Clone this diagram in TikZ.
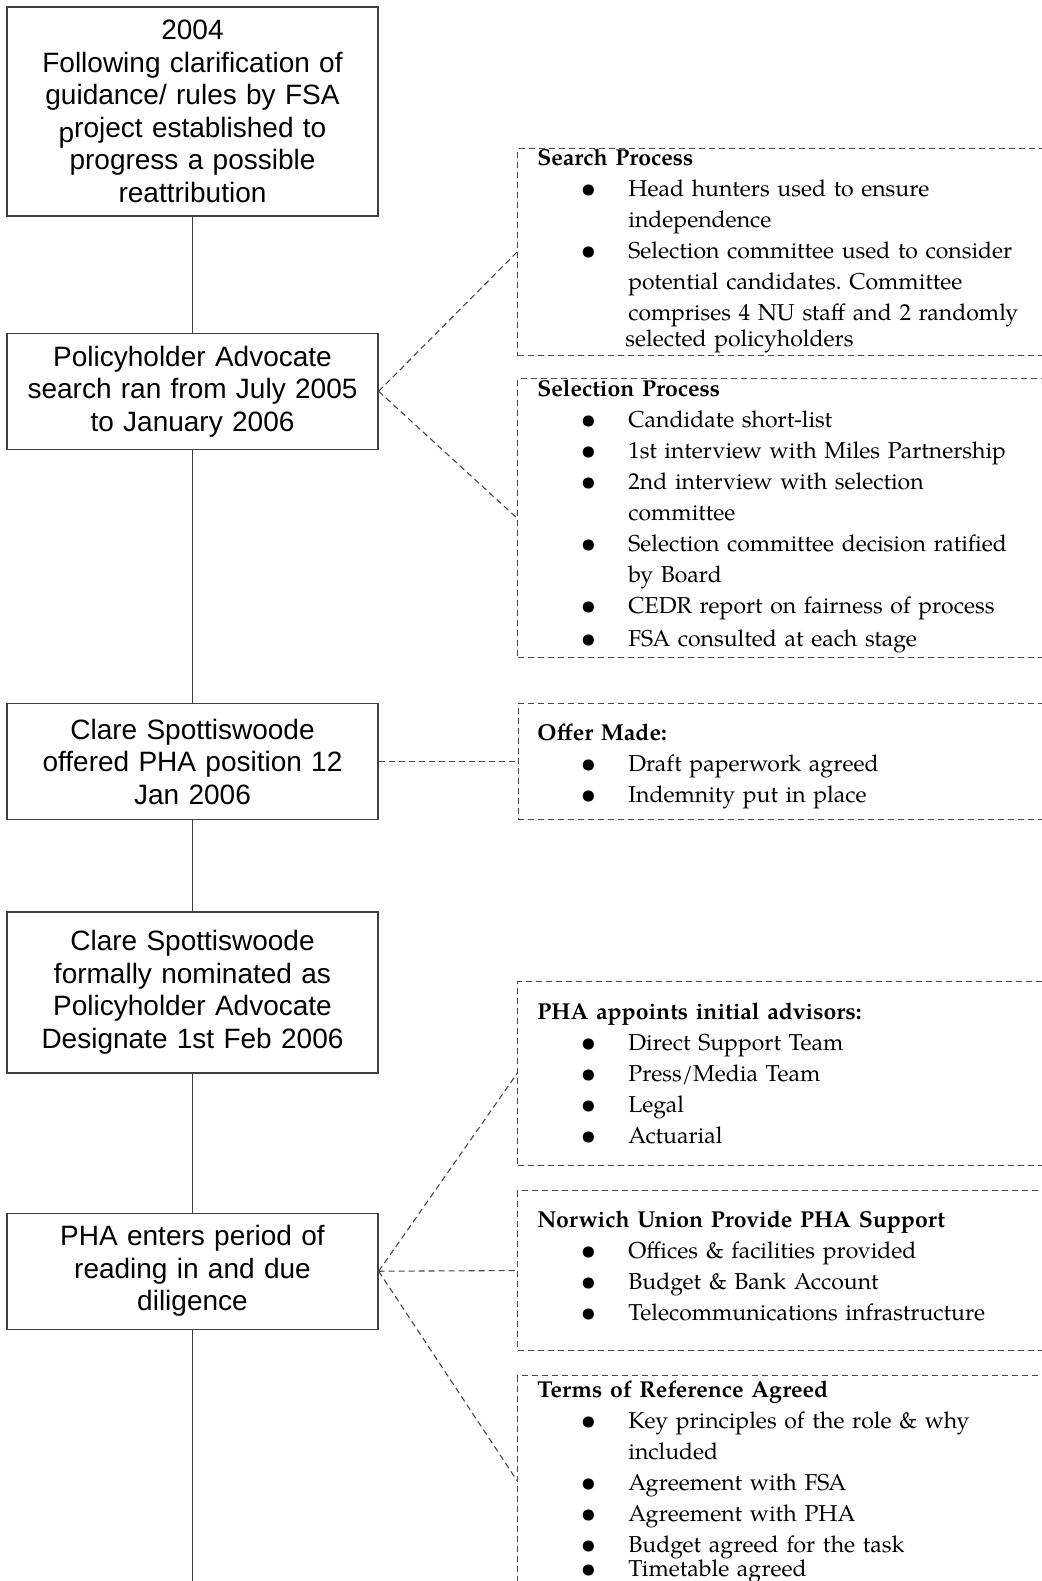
\documentclass[tikz,border=0pt]{standalone}
\usepackage{fontspec}
\setmainfont{Liberation Sans}
\newfontfamily\pagella{texgyrepagella}[Extension=.otf, UprightFont=*-regular, BoldFont=*-bold, ItalicFont=*-italic, BoldItalicFont=*-bolditalic]
\usepackage{xcolor}
\usepackage{tikz}
\usetikzlibrary{positioning,calc}
\definecolor{LINEGRAY}{HTML}{404040}
\definecolor{DASHGRAY}{HTML}{484848}
\newcommand{\bitem}[1]{\par{\leftskip=45.5pt\noindent\llap{\makebox[0pt]{\raisebox{-0.5pt}{\fontsize{14}{14}\selectfont\textbullet}}\hspace{20pt}}#1\par}}
\tikzstyle{RECTANGLE_1} = [rectangle, draw=LINEGRAY, line width=0.65pt, text width=181.5pt, align=center, minimum width=185.5pt, inner sep=2pt, font=\fontsize{14}{16.25}\selectfont]
\tikzstyle{DASHBOX} = [rectangle, draw=DASHGRAY, line width=0.55pt, dash pattern=on 3pt off 2pt, minimum width=300pt, anchor=north west]
\tikzstyle{TEXTBLOCK} = [inner sep=0pt, text width=250pt, align=left, anchor=north west, font=\pagella\fontsize{11.5}{15.5}\selectfont\frenchspacing]
\tikzstyle{LINE} = [draw=LINEGRAY, line width=0.65pt]
\tikzstyle{MYLINE} = [draw=DASHGRAY, line width=0.55pt, dash pattern=on 3pt off 2pt]
\begin{document}
\begin{tikzpicture}[x=0.5pt, y=-0.5pt]
\useasboundingbox (0,0) rectangle (1042,1581);
% Place node
\node [RECTANGLE_1, minimum height=104.5pt] (START) at (192.5,111.5) {2004\\ Following clarification of\\ guidance/ rules by FSA\\ \raisebox{-2.5pt}{p}roject established to\\ progress a possible\\ reattribution};
\node [RECTANGLE_1, minimum height=58pt, below=58pt of START] (SEARCH_RUN) {Policyholder Advocate\\ search ran from July 2005\\ to January 2006};
\node [RECTANGLE_1, minimum height=58pt, below=126.5pt of SEARCH_RUN] (OFFERED) {Clare Spottiswoode\\ offered PHA position 12\\ Jan 2006};
\node [RECTANGLE_1, minimum height=80.5pt, below=45.5pt of OFFERED] (NOMINATED) {Clare Spottiswoode\\ formally nominated as\\ Policyholder Advocate\\ Designate 1st Feb 2006};
\node [RECTANGLE_1, minimum height=58pt, below=69.5pt of NOMINATED] (READING) {PHA enters period of\\ reading in and due\\ diligence};
\coordinate (BOTTOM) at (192.5,1581);
%
\node [DASHBOX, minimum height=103.5pt] (SEARCH_PROC) at (517,148) {};
\node [DASHBOX, minimum height=139.5pt] (SELECT_PROC) at (517,378) {};
\node [DASHBOX, minimum height=58pt, anchor=west, right=69.5pt of OFFERED] (OFFER_MADE) {};
\node [DASHBOX, minimum height=92pt] (ADVISORS) at (517,981) {};
\node [DASHBOX, minimum height=80pt] (NU_SUPPORT) at (517,1190) {};
\node [DASHBOX, minimum height=105pt] (TERMS) at (517,1375) {};
%
\node [TEXTBLOCK] (SEARCH_TXT) at (537,143.3) {\strut\bfseries Search Process\par\mdseries
\bitem{Head hunters used to ensure\\ independence}
\bitem{Selection committee used to consider\\ potential candidates. Committee\\ comprises 4 NU staff and 2 randomly\\[-2.6pt] \hspace*{-1.5pt}selected policyholders}};
\node [TEXTBLOCK] (SELECT_TXT) at (537,374.3) {\strut\bfseries Selection Process\par\mdseries
\bitem{Candidate short-list}
\bitem{1st interview with Miles Partnership}
\bitem{2nd interview with selection\\ committee}
\bitem{Selection committee decision ratified\\ by Board}
\bitem{CEDR report on fairness of process}
\vspace{1pt}\bitem{FSA consulted at each stage}};
\node [TEXTBLOCK] (OFFER_TXT) at (537,718.3) {\strut\bfseries Offer Made:\par\mdseries
\bitem{Draft paperwork agreed}
\bitem{Indemnity put in place}};
\node [TEXTBLOCK] (ADVISORS_TXT) at (537,997.3) {\strut\bfseries PHA appoints initial advisors:\par\mdseries
\bitem{Direct Support Team}
\bitem{Press/Media Team}
\bitem{Legal}
\bitem{Actuarial}};
\node [TEXTBLOCK] (NU_TXT) at (537,1205.3) {\strut\bfseries Norwich Union Provide PHA Support\par\mdseries
\bitem{Offices \& facilities provided}
\bitem{Budget \& Bank Account}
\bitem{Telecommunications infrastructure}};
\node [TEXTBLOCK] (TERMS_TXT) at (537,1375.3) {\strut\bfseries Terms of Reference Agreed\par\mdseries
\bitem{Key principles of the role \& why\\ included}
\bitem{Agreement with FSA}
\bitem{Agreement with PHA}
\bitem{Budget agreed for the task}
\vspace{-3.6pt}\bitem{Timetable agreed}};
% LINES
\path [LINE] (START) -- (SEARCH_RUN);
\path [LINE] (SEARCH_RUN) -- (OFFERED);
\path [LINE] (OFFERED) -- (NOMINATED);
\path [LINE] (NOMINATED) -- (READING);
\path [LINE] (READING) -- (BOTTOM);
%
\path [MYLINE] (SEARCH_RUN.east) -- (SEARCH_PROC.west);
\path [MYLINE] (SEARCH_RUN.east) -- (SELECT_PROC.west);
\path [MYLINE] (OFFERED.east) -- (OFFER_MADE.west);
\path [MYLINE] (READING.east) -- (ADVISORS.west);
\path [MYLINE] (READING.east) -- (NU_SUPPORT.west);
\path [MYLINE] (READING.east) -- (TERMS.west);
\end{tikzpicture}
\end{document}
